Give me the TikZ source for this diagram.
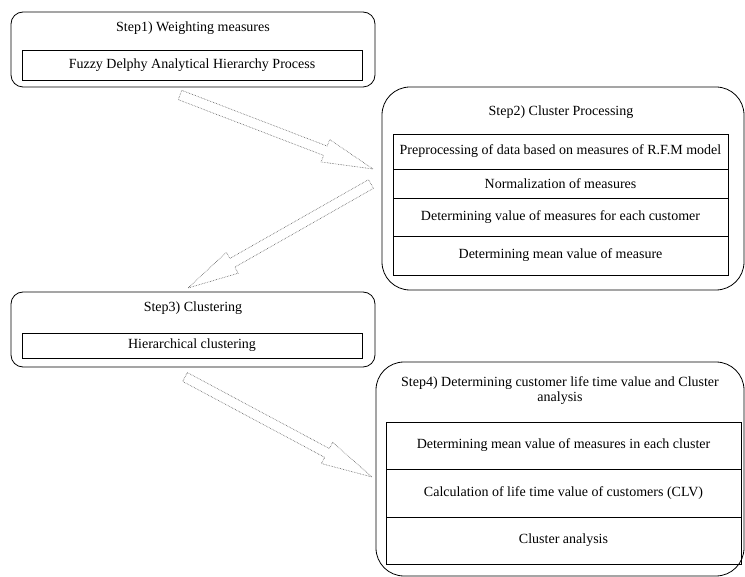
\documentclass[tikz,border=0pt]{standalone}
\usepackage{fontspec}
\setmainfont{Liberation Serif}
\usetikzlibrary{calc,positioning}
\tikzstyle{stepbox} = [draw=black, line width=.8pt, rounded corners=12pt, inner sep=0pt]
\tikzstyle{bigstep} = [stepbox, rounded corners=28pt]
\tikzstyle{rowbox} = [draw=black, line width=.6pt, inner sep=1pt, minimum width=335pt]
\tikzstyle{steptitle} = [inner sep=1pt, align=center]
\tikzstyle{hollow} = [draw=black!65, densely dotted, fill=white, line width=.6pt]
\newcommand{\fatarrow}[2]{
  \coordinate (h) at ($(#2)!51pt!(#1)$);
  \draw[hollow] ($(#1)!5pt!90:(#2)$) -- ($(h)!5pt!-90:(#1)$) -- ($(h)!12pt!-90:(#1)$) -- (#2)
    -- ($(h)!12pt!90:(#1)$) -- ($(h)!5pt!90:(#1)$) -- ($(#1)!5pt!-90:(#2)$) -- cycle;
}

\begin{document}
\begin{tikzpicture}[x=1pt, y=-1pt, font=\fontsize{14}{15}\selectfont]
  \useasboundingbox (0,0) rectangle (745,577);

  \node [stepbox, minimum width=364pt, minimum height=75pt] (s1) at (193,49.5) {};
  \node [steptitle] (t1) at (193,28) {Step1) Weighting measures};
  \node [rowbox, minimum width=340pt, minimum height=30pt] (b1) at (192,65) {Fuzzy Delphy Analytical Hierarchy Process};

  \node [bigstep, minimum width=362pt, minimum height=203pt] (s2) at (563,188.5) {};
  \node [steptitle] (t2) at (561,112) {Step2) Cluster Processing};
  \node [rowbox, minimum height=35pt] (r21) at (560.5,151.5) {Preprocessing of data based on measures of R.F.M model};
  \node [rowbox, minimum height=29pt] (r22) at (560.5,183.5) {Normalization of measures};
  \node [rowbox, minimum height=38pt] (r23) at (560.5,217) {Determining value of measures for each customer};
  \node [rowbox, minimum height=39pt] (r24) at (560.5,255.5) {Determining mean value of measure};

  \node [stepbox, minimum width=364pt, minimum height=75pt] (s3) at (193,329.5) {};
  \node [steptitle] (t3) at (193,308) {Step3) Clustering};
  \node [rowbox, minimum width=340pt, minimum height=25pt] (b3) at (192,345.5) {Hierarchical clustering};

  \node [bigstep, minimum width=368pt, minimum height=214pt] (s4) at (560,469) {};
  \node [steptitle] (t4) at (560,391) {Step4) Determining customer life time value and Cluster\\analysis};
  \node [rowbox, minimum width=355pt, minimum height=47pt] (r41) at (563.5,445.5) {Determining mean value of measures in each cluster};
  \node [rowbox, minimum width=355pt, minimum height=48pt] (r42) at (563.5,493) {Calculation of life time value of customers (CLV)};
  \node [rowbox, minimum width=355pt, minimum height=47pt] (r43) at (563.5,540.5) {Cluster analysis};

  \coordinate (a1from) at (180,95);
  \coordinate (a1to) at (373,169);
  \coordinate (a2from) at (371,184);
  \coordinate (a2to) at (188,288);
  \coordinate (a3from) at (185,377);
  \coordinate (a3to) at (372,477);
  \fatarrow{a1from}{a1to}
  \fatarrow{a2from}{a2to}
  \fatarrow{a3from}{a3to}
\end{tikzpicture}
\end{document}
